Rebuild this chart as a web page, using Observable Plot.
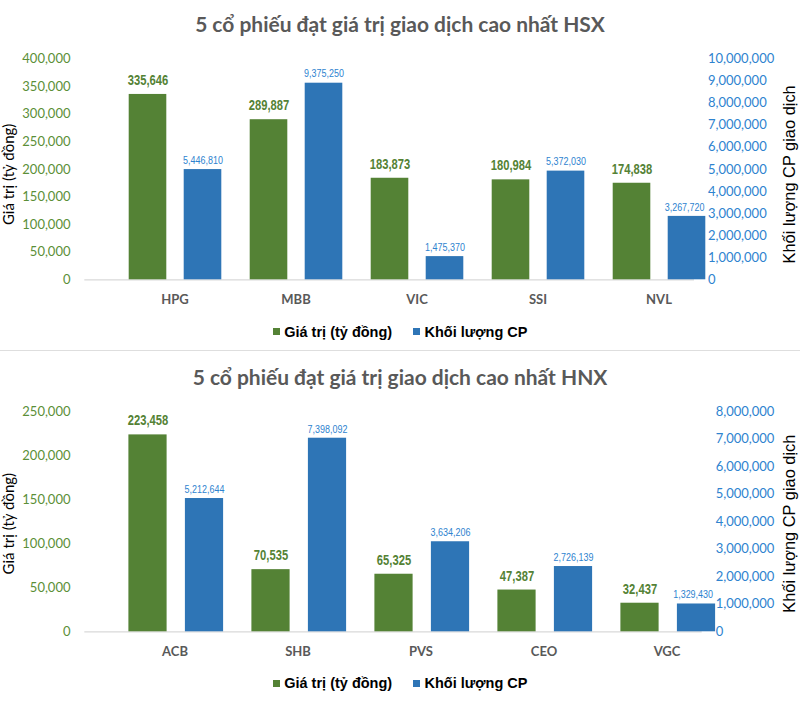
<!DOCTYPE html>
<html><head><meta charset="utf-8">
<script src="https://cdn.jsdelivr.net/npm/d3@7"></script>
<script src="https://cdn.jsdelivr.net/npm/@observablehq/plot@0.6"></script>
<style>
body{margin:0;background:#fff;width:800px;height:727px;position:relative;overflow:hidden}
.title{position:absolute;left:0;width:800px;text-align:center;font-family:Lato,sans-serif;font-weight:700;color:#595959;white-space:nowrap}
.legend{position:absolute;left:0;width:800px;display:flex;justify-content:center;align-items:center;font-family:"Liberation Sans",Arial,sans-serif;font-weight:700;font-size:14.5px;line-height:14.5px;color:#000;white-space:nowrap}
.sw{width:7px;height:7px;margin-right:4.7px}
.chart{position:absolute;left:0}
.sep{position:absolute;left:0;top:349.5px;width:800px;height:1px;background:#dedede}
</style></head><body>
<div class="title" id="t1">5 cổ phiếu đạt giá trị giao dịch cao nhất HSX</div>
<div class="chart" id="c1" style="top:40px"></div>
<div class="legend" style="top:324.6px"><span class="sw" style="background:#548235"></span><span style="margin-right:20.7px">Giá trị (tỷ đồng)</span><span class="sw" style="background:#2E75B6"></span><span>Khối lượng CP</span></div>
<div class="sep"></div>
<div class="title" id="t2">5 cổ phiếu đạt giá trị giao dịch cao nhất HNX</div>
<div class="chart" id="c2" style="top:390px"></div>
<div class="legend" style="top:675.9px"><span class="sw" style="background:#548235"></span><span style="margin-right:20.7px">Giá trị (tỷ đồng)</span><span class="sw" style="background:#2E75B6"></span><span>Khối lượng CP</span></div>
<script>
// ---- data ----
const hsxTickers = ["HPG", "MBB", "VIC", "SSI", "NVL"];
const hsxValue = [335646, 289887, 183873, 180984, 174838];           // Giá trị (tỷ đồng)
const hsxVolumeLabel = [5446810, 9375250, 1475370, 5372030, 3267720]; // printed labels
const hsxVolumeBar = [4990000, 8900000, 1050000, 4920000, 2870000];   // bar heights as drawn
const hsxLeftTicks = [0, 50000, 100000, 150000, 200000, 250000, 300000, 350000, 400000];
const hsxRightTicks = [0, 1000000, 2000000, 3000000, 4000000, 5000000, 6000000, 7000000, 8000000, 9000000, 10000000];

const hnxTickers = ["ACB", "SHB", "PVS", "CEO", "VGC"];
const hnxValue = [223458, 70535, 65325, 47387, 32437];
const hnxVolumeLabel = [5212644, 7398092, 3634206, 2726139, 1329430];
const hnxVolumeBar = [4840000, 7030000, 3270000, 2370000, 1010000];
const hnxLeftTicks = [0, 50000, 100000, 150000, 200000, 250000];
const hnxRightTicks = [0, 1000000, 2000000, 3000000, 4000000, 5000000, 6000000, 7000000, 8000000];

const leftTitle = "Giá trị (tỷ đồng)";
const rightTitle = "Khối lượng CP giao dịch";

// ---- styles ----
const GREEN = "#548235", BLUE = "#2E75B6", GREEN_T = "#5B8F37", BLUE_T = "#2E83CF";
const fmt = d3.format(",");
const LABEL_FONT = "'Liberation Sans', Arial, sans-serif";

function panel(cfg) {
  const leftMax = cfg.leftTicks[cfg.leftTicks.length - 1];
  const rightMax = cfg.rightTicks[cfg.rightTicks.length - 1];
  const ratio = rightMax / leftMax;
  const rows = cfg.tickers.map((t, i) => ({t, v: cfg.value[i], vb: cfg.volBar[i] / ratio, vl: cfg.volLabel[i]}));
  return Plot.plot({
    width: 800, height: cfg.height,
    marginLeft: 84.3, marginRight: cfg.marginRight, marginTop: cfg.marginTop, marginBottom: cfg.marginBottom,
    style: {fontFamily: "Lato, sans-serif", fontSize: "13px", background: "transparent", overflow: "visible"},
    x: {type: "band", domain: cfg.tickers, padding: 0, label: null},
    y: {domain: [0, leftMax], nice: false, label: null},
    marks: [
      Plot.ruleY([0], {stroke: "#d9d9d9", strokeWidth: 1.3}),
      Plot.barY(rows, {x: "t", y: "v", fill: GREEN, insetLeft: cfg.inset, insetRight: cfg.inset}),
      Plot.barY(rows, {x: "t", y: "vb", fill: BLUE, insetLeft: cfg.inset, insetRight: cfg.inset, dx: cfg.blueDx}),
      Plot.text(rows, {x: "t", y: "v", text: d => fmt(d.v), dy: -9.5, lineAnchor: "bottom", fill: GREEN, fontWeight: "bold", fontSize: 14, fontFamily: LABEL_FONT}),
      Plot.text(rows, {x: "t", y: "vb", text: d => fmt(d.vl), dy: -5.7, dx: cfg.blueDx, lineAnchor: "bottom", fill: BLUE_T, fontSize: 11.2, fontFamily: LABEL_FONT}),
      Plot.axisY({ticks: cfg.leftTicks, tickFormat: fmt, tickSize: 0, tickPadding: 14.3, color: GREEN_T, label: null}),
      Plot.axisY({anchor: "right", ticks: cfg.rightTicks.map(v => v / ratio), tickFormat: d => fmt(Math.round(d * ratio)), tickSize: 0, tickPadding: 13.5, color: BLUE_T, label: null}),
      Plot.axisX({tickSize: 0, tickPadding: 14.8, dx: 27, color: "#595959", fontWeight: "bold", label: null}),
      Plot.text([leftTitle], {frameAnchor: "left", textAnchor: "middle", lineAnchor: "middle", rotate: -90, dx: -75.5, dy: cfg.titleDy, fontSize: 15, fill: "#000"}),
      Plot.text([rightTitle], {frameAnchor: "right", textAnchor: "middle", lineAnchor: "middle", rotate: -90, dx: 789 - (800 - cfg.marginRight), dy: cfg.titleDy, fontSize: 16.4, fontFamily: "'Liberation Sans', Arial, sans-serif", fill: "#000"})
    ]
  });
}

// value labels in the reference use a narrow face: compress them horizontally,
// and keep the last blue label clear of the right-hand tick labels (as Excel does)
function condense(svg, limitX) {
  svg.querySelectorAll('g[font-size="14"] text, g[font-size="11.2"] text').forEach(t => {
    const w = t.getComputedTextLength();
    t.setAttribute("textLength", (w * 0.8).toFixed(2));
    t.setAttribute("lengthAdjust", "spacingAndGlyphs");
  });
  const svgLeft = svg.getBoundingClientRect().left;
  svg.querySelectorAll('g[font-size="11.2"] text').forEach(t => {
    const r = t.getBoundingClientRect();
    const excess = r.right - svgLeft - limitX;
    if (excess > 0) t.setAttribute("x", (-excess).toFixed(2));
  });
}

const p1 = panel({
  tickers: hsxTickers, value: hsxValue, volBar: hsxVolumeBar, volLabel: hsxVolumeLabel,
  leftTicks: hsxLeftTicks, rightTicks: hsxRightTicks,
  height: 270, marginTop: 18.4, marginBottom: 30.7, marginRight: 106,
  inset: 41.7, blueDx: 55, titleDy: 5
});
document.getElementById("c1").append(p1);
const p2 = panel({
  tickers: hnxTickers, value: hnxValue, volBar: hnxVolumeBar, volLabel: hnxVolumeLabel,
  leftTicks: hnxLeftTicks, rightTicks: hnxRightTicks,
  height: 275, marginTop: 21, marginBottom: 33.7, marginRight: 98.3,
  inset: 42.4, blueDx: 56.5, titleDy: 2
});
document.getElementById("c2").append(p2);
condense(p1, 704.5); condense(p2, 713);

// fit title widths (reference: ~410px and ~415px wide)
function fitTitle(id, targetW, baseline) {
  const el = document.getElementById(id);
  const c = document.createElement("canvas").getContext("2d");
  c.font = "700 100px Lato";
  const w = c.measureText(el.textContent).width;
  const fs = 100 * targetW / w;
  el.style.fontSize = fs + "px";
  el.style.lineHeight = fs + "px";
  el.style.top = (baseline - 0.87 * fs) + "px";
}
fitTitle("t1", 410, 32.3);
fitTitle("t2", 415, 384.3);
</script>
</body></html>
